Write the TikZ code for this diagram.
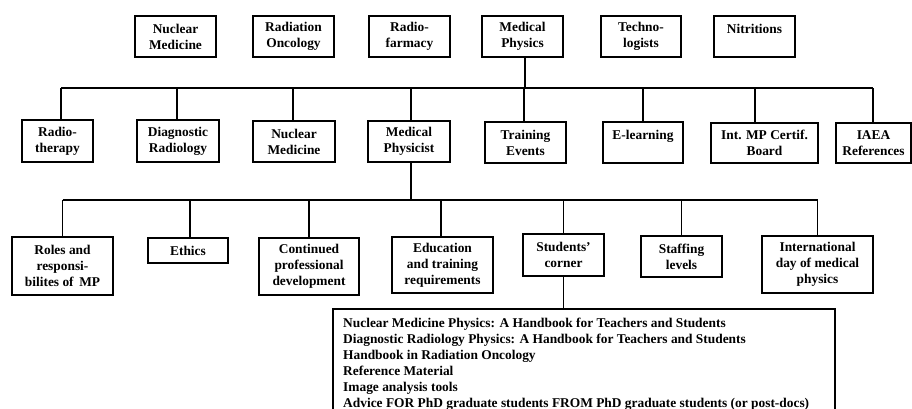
\documentclass[tikz,border=0pt]{standalone}
\usepackage{fontspec}
\setmainfont{Liberation Serif}
\tikzset{
  boxst/.style={draw, line width=1.2pt, inner sep=0pt, align=center,
    font=\fontsize{13.4}{16}\selectfont\bfseries},
  ln/.style={line width=1.2pt},
  listst/.style={inner sep=0pt, align=left, anchor=north west,
    font=\fontsize{13.4}{16}\selectfont\bfseries}
}
\newcommand\mybox[6]{%
  \node[boxst, minimum width={(#4-#2)*1pt}, minimum height={(#5-#3)*1pt}]
    (#1) at ({(#2+#4)/2},{(#3+#5)/2}) {#6};}
\begin{document}
\begin{tikzpicture}[x=1pt,y=-1pt]
\clip (0,0) rectangle (912,409);
\useasboundingbox (0,0) rectangle (912,409);
% top row
\mybox{tnm}{135}{16}{216}{57}{Nuclear\\Medicine}
\mybox{tro}{253}{16}{334}{57}{Radiation\\Oncology}
\mybox{trf}{369}{16}{450}{57}{Radio-\\farmacy}
\mybox{tmp}{482}{16}{563}{57}{Medical\\Physics}
\mybox{tte}{601}{16}{681}{57}{Techno-\\logists}
\mybox{tnu}{714}{16}{795}{57}{Nitritions\\\mbox{}}
% second row
\mybox{rt}{22}{120}{93}{162}{Radio-\\therapy}
\mybox{dr}{137}{120}{219}{162}{Diagnostic\\Radiology}
\mybox{nm}{253}{121}{335}{162}{Nuclear\\Medicine}
\mybox{mph}{368}{121}{450}{162}{Medical\\Physicist}
\mybox{te}{485}{122}{566}{163}{Training\\Events}
\mybox{el}{603}{122}{683}{163}{E-learning\\\mbox{}}
\mybox{imp}{711}{123}{818}{163}{Int. MP Certif.\\Board}
\mybox{iaea}{836}{123}{911}{163}{IAEA\\References}
% third row
\mybox{roles}{12}{237}{113}{295}{Roles and\\responsi-\\bilites of\, MP}
\mybox{eth}{148}{238}{228}{263}{Ethics}
\mybox{cpd}{259}{238}{359}{295}{Continued\\professional\\development}
\mybox{edu}{392}{237}{493}{293}{Education\\and training\\requirements}
\mybox{stc}{523}{234}{604}{276}{Students'\\corner}
\mybox{stl}{641}{236}{722}{277}{Staffing\\levels}
\mybox{idm}{762}{236}{873}{293}{International\\day of medical\\physics}
% bottom list box
\node[draw, line width=1.2pt, minimum width=502pt, minimum height=120pt, inner sep=0pt]
  (lst) at (584,369) {};
\node[listst] (lsttext) at (343,317.5) {Nuclear Medicine Physics: A Handbook for Teachers and Students\\
Diagnostic Radiology Physics: A Handbook for Teachers and Students\\
Handbook in Radiation Oncology\\
Reference Material\\
Image analysis tools\\
Advice FOR PhD graduate students FROM PhD graduate students (or post-docs)};
% bus 1
\coordinate (b1) at (525,88);
\draw[ln] ([xshift=2.5pt]tmp.south) -- ([xshift=2.5pt]tmp.south |- b1);
\draw[ln] ([xshift=3.5pt]rt.north |- b1) -- ([xshift=-0.5pt]iaea.north |- b1);
\draw[ln] ([xshift=3.5pt]rt.north) -- ([xshift=3.5pt]rt.north |- b1);
\draw[ln] ([xshift=-1pt]dr.north) -- ([xshift=-1pt]dr.north |- b1);
\draw[ln] ([xshift=-1pt]nm.north) -- ([xshift=-1pt]nm.north |- b1);
\draw[ln] ([xshift=2pt]mph.north) -- ([xshift=2pt]mph.north |- b1);
\draw[ln] ([xshift=-1.5pt]te.north) -- ([xshift=-1.5pt]te.north |- b1);
\draw[ln] (el.north) -- (el.north |- b1);
\draw[ln] ([xshift=-9.5pt]imp.north) -- ([xshift=-9.5pt]imp.north |- b1);
\draw[ln] ([xshift=-0.5pt]iaea.north) -- ([xshift=-0.5pt]iaea.north |- b1);
% bus 2
\coordinate (b2) at (411,200);
\draw[ln] ([xshift=2pt]mph.south) -- ([xshift=2pt]mph.south |- b2);
\draw[ln] (roles.north |- b2) -- (idm.north |- b2);
\draw[ln] (roles.north) -- (roles.north |- b2);
\draw[ln] ([xshift=2pt]eth.north) -- ([xshift=2pt]eth.north |- b2);
\draw[ln] (cpd.north) -- (cpd.north |- b2);
\draw[ln] ([xshift=-1.5pt]edu.north) -- ([xshift=-1.5pt]edu.north |- b2);
\draw[ln] (stc.north) -- (stc.north |- b2);
\draw[ln] (stl.north) -- (stl.north |- b2);
\draw[ln] (idm.north) -- (idm.north |- b2);
% to list
\draw[ln] (stc.south) -- (stc.south |- lst.north);
\end{tikzpicture}
\end{document}
